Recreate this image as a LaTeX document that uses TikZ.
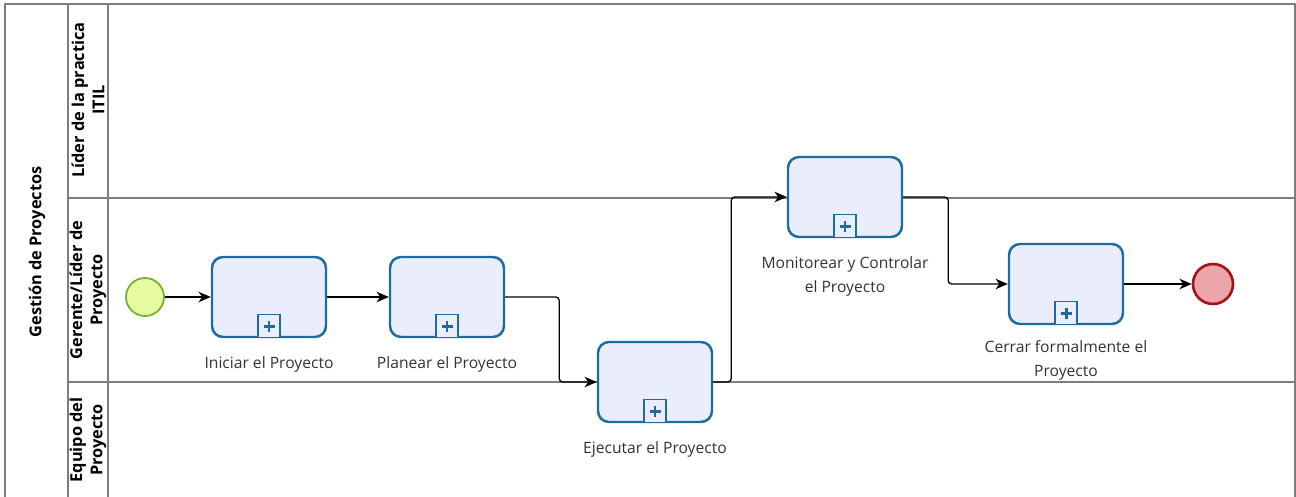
\documentclass[tikz,border=0pt]{standalone}
\usepackage{fontspec}
\setmainfont{Open Sans}
\usetikzlibrary{arrows.meta,positioning}
\definecolor{taskblue}{RGB}{28,108,160}
\definecolor{taskfill}{RGB}{234,238,252}
\definecolor{startgreen}{RGB}{112,182,40}
\definecolor{startfill}{RGB}{232,250,160}
\definecolor{endred}{RGB}{165,20,22}
\definecolor{endfill}{RGB}{236,166,170}
\definecolor{lanegray}{RGB}{125,125,125}
\tikzstyle{task} = [rectangle, rounded corners=0.22cm, minimum width=2.28cm, minimum height=1.6cm, draw=taskblue, line width=1.4pt, fill=taskfill]
\tikzstyle{plusbox} = [rectangle, minimum width=0.44cm, minimum height=0.46cm, inner sep=0pt, draw=taskblue, line width=0.8pt, fill=taskfill,
  path picture={\draw[taskblue, line width=1.7pt] ([xshift=-0.11cm]path picture bounding box.center) -- ++(0.22cm,0)
    ([yshift=-0.11cm]path picture bounding box.center) -- ++(0,0.22cm);}]
\tikzstyle{startev} = [circle, minimum size=0.76cm, inner sep=0pt, draw=startgreen, line width=1pt, fill=startfill]
\tikzstyle{endev} = [circle, minimum size=0.8cm, inner sep=0pt, draw=endred, line width=1.5pt, fill=endfill]
\tikzstyle{tasktext} = [align=center, inner sep=0pt, text=black!80, font=\fontsize{8.9}{13.6}\selectfont]
\tikzstyle{lanetext} = [rotate=90, align=center, inner sep=0pt, font=\fontsize{9.3}{11.6}\selectfont\bfseries]
\tikzstyle{lane} = [draw=lanegray, line width=0.6pt]
\tikzstyle{arrow} = [line width=0.75pt,-{Stealth[length=7pt,width=6pt,inset=2.2pt]}, rounded corners=2pt]

\begin{document}
\begin{tikzpicture}[x=0.02cm, y=-0.02cm]
\useasboundingbox (0,0) rectangle (1296,497);
% pool and lanes
\draw [lane] (5,497) -- (5,4) -- (1295,4) -- (1295,497);
\draw [lane] (68,4) -- (68,497);
\draw [lane] (108,4) -- (108,497);
\draw [lane] (68,198) -- (1295,198);
\draw [lane] (68,382) -- (1295,382);
\node (pool) [lanetext] at (37,252) {Gestión de Proyectos};
\node (lane1) [lanetext] at (88,100) {Líder de la practica\\ITIL};
\node (lane2) [lanetext] at (88,290) {Gerente/Líder de\\Proyecto};
\node (lane3) [lanetext] at (88,440) {Equipo del\\Proyecto};

% events and tasks
\node (start) [startev] at (145,297) {};
\node (t1) [task] at (269,297) {};
\node (t2) [task] at (447,297) {};
\node (t3) [task] at (655,382) {};
\node (t4) [task] at (845,197) {};
\node (t5) [task] at (1066,284) {};
\node (end) [endev] at (1213,284) {};

\node (p1) [plusbox, anchor=south] at (t1.south) {};
\node (p2) [plusbox, anchor=south] at (t2.south) {};
\node (p3) [plusbox, anchor=south] at (t3.south) {};
\node (p4) [plusbox, anchor=south] at (t4.south) {};
\node (p5) [plusbox, anchor=south] at (t5.south) {};

\node (l1) [tasktext, below=0.36cm of t1] {Iniciar el Proyecto};
\node (l2) [tasktext, below=0.36cm of t2] {Planear el Proyecto};
\node (l3) [tasktext, below=0.36cm of t3] {Ejecutar el Proyecto};
\node (l4) [tasktext, below=0.36cm of t4] {Monitorear y Controlar\\el Proyecto};
\node (l5) [tasktext, below=0.3cm of t5] {Cerrar formalmente el\\Proyecto};

% flows
\draw [arrow] (start) -- (t1);
\draw [arrow] (t1) -- (t2);
\draw [arrow] (t2.east) -- ++(54,0) |- (t3.west);
\draw [arrow] (t3.east) -- ++(18,0) |- (t4.west);
\draw [arrow] (t4.east) -- ++(45,0) |- (t5.west);
\draw [arrow] (t5) -- (end);
\end{tikzpicture}
\end{document}
